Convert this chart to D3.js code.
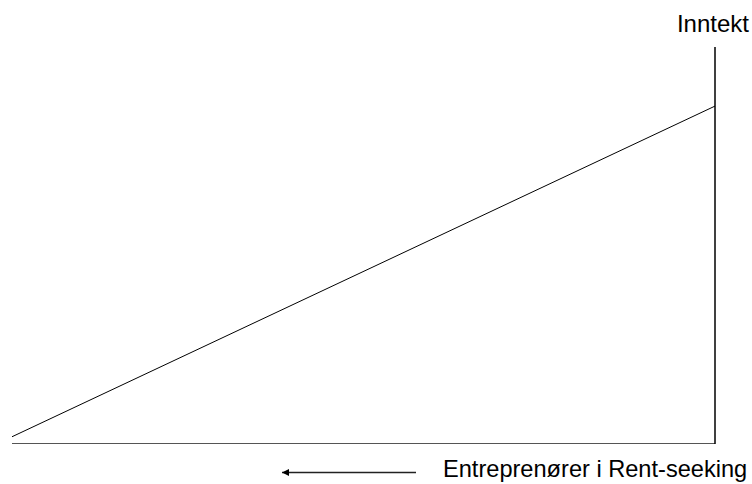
<!DOCTYPE html>
<html><head><meta charset="utf-8">
<script src="https://cdn.jsdelivr.net/npm/d3@7"></script>
<style>body{margin:0;background:#fff}svg{display:block}</style>
</head><body>
<svg id="c" width="752" height="484"></svg>
<script>
const lineX = [0, 100];
const lineY = [1.7, 85.1];
const yLabel = "Inntekt";
const xLabel = "Entreprenører i Rent-seeking";

const svg = d3.select("#c");
const x = d3.scaleLinear().domain([0, 100]).range([12, 715]);
const y = d3.scaleLinear().domain([0, 100]).range([443.5, 47]);

svg.append("defs").append("marker").attr("id","ah").attr("viewBox","0 0 10 10")
  .attr("refX",10).attr("refY",5).attr("markerWidth",8).attr("markerHeight",7)
  .attr("markerUnits","userSpaceOnUse").attr("orient","auto")
  .append("path").attr("d","M0,0L10,5L0,10Z").attr("fill","#000");

// axes
svg.append("line").attr("x1", x(0)).attr("x2", x(100)).attr("y1", y(0)).attr("y2", y(0))
  .attr("stroke","#555").attr("stroke-width",1.2);
svg.append("line").attr("x1", x(100)).attr("x2", x(100)).attr("y1", y(0) + 0.6).attr("y2", y(100))
  .attr("stroke","#000").attr("stroke-width",1.5);

const pts = lineX.map((d,i)=>[d, lineY[i]]);
svg.append("path").datum(pts).attr("d", d3.line().x(d=>x(d[0])).y(d=>y(d[1])))
  .attr("fill","none").attr("stroke","#000").attr("stroke-width",1);

svg.append("text").attr("x", 749).attr("y", 32).attr("text-anchor","end")
  .attr("font-family","Liberation Sans, Arial, sans-serif").attr("font-size",24).text(yLabel);
svg.append("text").attr("x", 443).attr("y", 477)
  .attr("font-family","Liberation Sans, Arial, sans-serif").attr("font-size",23.6).text(xLabel);

svg.append("line").attr("x1", 416).attr("x2", 282).attr("y1", 472.5).attr("y2", 472.5)
  .attr("stroke","#222").attr("stroke-width",1.3).attr("marker-end","url(#ah)");
</script>
</body></html>
